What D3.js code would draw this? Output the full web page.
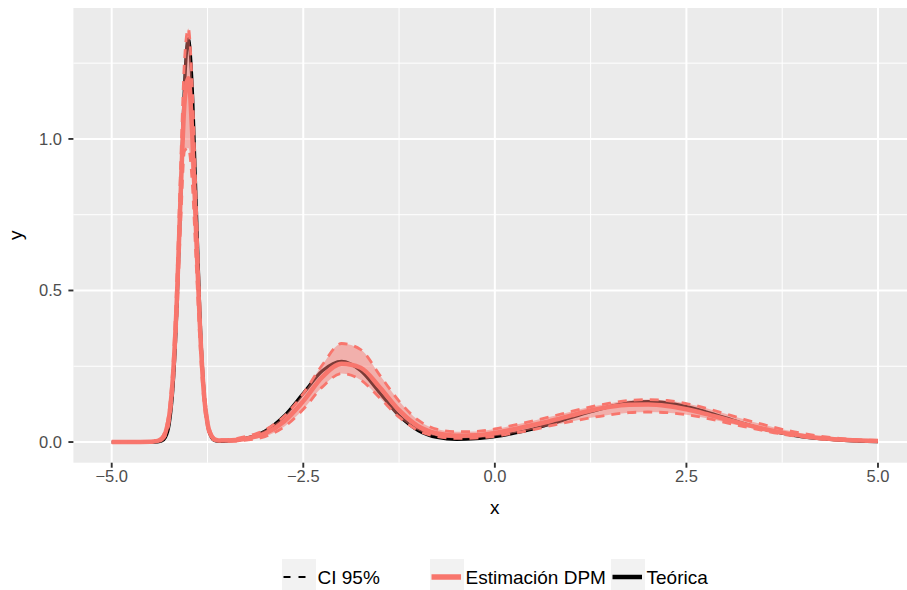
<!DOCTYPE html>
<html>
<head>
<meta charset="utf-8">
<script src="https://cdn.jsdelivr.net/npm/d3@7"></script>
<style>
  body { margin: 0; background: #fff; }
  svg { display: block; font-family: "Liberation Sans", Arial, sans-serif; }
</style>
</head>
<body>
<svg id="svg" width="907" height="590"></svg>
<script>
// x grid (finer around the spike at -4)
const xs = [-5, -4.75, -4.5, -4.45, -4.4, -4.35, -4.3, -4.25, -4.2, -4.15, -4.1, -4.05, -4.0,
  -3.95, -3.9, -3.85, -3.8, -3.75, -3.7, -3.65, -3.6, -3.55,
  -3.5, -3.25, -3.0, -2.75, -2.5, -2.25, -2.0, -1.75, -1.5, -1.25, -1.0, -0.75, -0.5, -0.25,
  0, 0.25, 0.5, 0.75, 1.0, 1.25, 1.5, 1.75, 2.0, 2.25, 2.5, 2.75, 3.0, 3.25, 3.5, 3.75,
  4.0, 4.25, 4.5, 4.75, 5.0];

// theoretical density (black)
const teorica = [0, 0, 0, 0, 0.0005, 0.003, 0.015, 0.058, 0.180, 0.432, 0.807, 1.174, 1.330,
  1.174, 0.807, 0.432, 0.180, 0.059, 0.016, 0.004, 0.002, 0.002,
  0.003, 0.012, 0.036, 0.086, 0.161, 0.235, 0.266, 0.235, 0.162, 0.087, 0.038, 0.015, 0.009, 0.011,
  0.018, 0.029, 0.043, 0.061, 0.081, 0.100, 0.117, 0.129, 0.133, 0.129, 0.117, 0.100, 0.081, 0.061, 0.043, 0.029,
  0.018, 0.011, 0.006, 0.003, 0.0015];

// DPM estimate (salmon)
const estimacion = [0, 0, 0.001, 0.002, 0.004, 0.010, 0.030, 0.085, 0.220, 0.470, 0.820, 1.120, 1.200,
  1.020, 0.700, 0.390, 0.170, 0.062, 0.020, 0.008, 0.005, 0.005,
  0.005, 0.011, 0.028, 0.068, 0.135, 0.215, 0.258, 0.245, 0.180, 0.105, 0.052, 0.028, 0.021, 0.022,
  0.030, 0.042, 0.056, 0.071, 0.088, 0.104, 0.116, 0.123, 0.124, 0.119, 0.108, 0.093, 0.076, 0.059, 0.044, 0.031,
  0.021, 0.013, 0.008, 0.005, 0.003];

// 95% band
const ciUpper = [0, 0, 0.002, 0.003, 0.006, 0.014, 0.040, 0.105, 0.260, 0.540, 0.920, 1.260, 1.364,
  1.180, 0.820, 0.450, 0.200, 0.075, 0.027, 0.012, 0.008, 0.008,
  0.008, 0.018, 0.040, 0.085, 0.160, 0.255, 0.325, 0.305, 0.220, 0.135, 0.072, 0.042, 0.034, 0.035,
  0.043, 0.056, 0.070, 0.085, 0.101, 0.116, 0.128, 0.137, 0.140, 0.137, 0.127, 0.112, 0.094, 0.075, 0.058, 0.042,
  0.029, 0.019, 0.012, 0.008, 0.005];

const ciLower = [0, 0, 0, 0.001, 0.002, 0.006, 0.020, 0.065, 0.180, 0.400, 0.720, 0.960, 0.970,
  0.860, 0.600, 0.330, 0.140, 0.048, 0.013, 0.005, 0.003, 0.003,
  0.002, 0.006, 0.018, 0.050, 0.108, 0.182, 0.226, 0.205, 0.145, 0.082, 0.038, 0.018, 0.012, 0.013,
  0.019, 0.029, 0.041, 0.055, 0.068, 0.080, 0.090, 0.097, 0.099, 0.097, 0.090, 0.079, 0.065, 0.051, 0.038, 0.026,
  0.017, 0.010, 0.006, 0.003, 0.001];

const xTicks = [-5, -2.5, 0, 2.5, 5];
const xMinor = [-3.75, -1.25, 1.25, 3.75];
const yTicks = [0, 0.5, 1.0];
const yMinor = [0.25, 0.75, 1.25];

const salmon = "#F8766D";
const fmt = d => (d < 0 ? "\u2212" : "") + Math.abs(d).toFixed(1);

const svg = d3.select("#svg");

// panel (right side runs past the picture edge, as in the original crop)
const pLeft = 73.4, pRight = 916.3, pTop = 8, pBottom = 462.7;
const x = d3.scaleLinear().domain([-5.5, 5.5]).range([pLeft, pRight]);
const y = d3.scaleLinear().domain([-0.0682, 1.432]).range([pBottom, pTop]);

svg.append("rect").attr("x", pLeft).attr("y", pTop)
  .attr("width", pRight - pLeft).attr("height", pBottom - pTop).attr("fill", "#EBEBEB");

svg.append("clipPath").attr("id", "clip").append("rect")
  .attr("x", pLeft).attr("y", pTop).attr("width", pRight - pLeft).attr("height", pBottom - pTop);

// grid lines
const grid = svg.append("g");
grid.selectAll(".xmin").data(xMinor).join("line")
  .attr("x1", d => x(d)).attr("x2", d => x(d)).attr("y1", pTop).attr("y2", pBottom)
  .attr("stroke", "#fff").attr("stroke-width", 1);
grid.selectAll(".ymin").data(yMinor).join("line")
  .attr("y1", d => y(d)).attr("y2", d => y(d)).attr("x1", pLeft).attr("x2", pRight)
  .attr("stroke", "#fff").attr("stroke-width", 1);
grid.selectAll(".xmaj").data(xTicks).join("line")
  .attr("x1", d => x(d)).attr("x2", d => x(d)).attr("y1", pTop).attr("y2", pBottom)
  .attr("stroke", "#fff").attr("stroke-width", 2);
grid.selectAll(".ymaj").data(yTicks).join("line")
  .attr("y1", d => y(d)).attr("y2", d => y(d)).attr("x1", pLeft).attr("x2", pRight)
  .attr("stroke", "#fff").attr("stroke-width", 2);

const idx = d3.range(xs.length);
const lineOf = arr => d3.line().x(i => x(xs[i])).y(i => y(arr[i])).curve(d3.curveMonotoneX);

const plot = svg.append("g").attr("clip-path", "url(#clip)");

// theoretical curve, under the ribbon
plot.append("path").attr("d", lineOf(teorica)(idx))
  .attr("fill", "none").attr("stroke", "#000").attr("stroke-width", 3.2);

// ribbon
const band = d3.area().x(i => x(xs[i])).y0(i => y(ciLower[i])).y1(i => y(ciUpper[i]))
  .curve(d3.curveMonotoneX);
plot.append("path").attr("d", band(idx)).attr("fill", salmon).attr("fill-opacity", 0.5);

// estimate
plot.append("path").attr("d", lineOf(estimacion)(idx))
  .attr("fill", "none").attr("stroke", salmon).attr("stroke-width", 4.5);

// CI bounds
[ciUpper, ciLower].forEach(arr => {
  plot.append("path").attr("d", lineOf(arr)(idx))
    .attr("fill", "none").attr("stroke", salmon).attr("stroke-width", 2.8)
    .attr("stroke-dasharray", "9,7");
});

// axes
const ax = svg.append("g");
ax.selectAll(".xt").data(xTicks).join("line")
  .attr("x1", d => x(d)).attr("x2", d => x(d)).attr("y1", pBottom).attr("y2", pBottom + 5)
  .attr("stroke", "#333").attr("stroke-width", 1.9);
ax.selectAll(".xl").data(xTicks).join("text")
  .attr("x", d => x(d)).attr("y", 481.5).attr("text-anchor", "middle")
  .attr("font-size", 16.5).attr("fill", "#4D4D4D").text(fmt);
ax.selectAll(".yt").data(yTicks).join("line")
  .attr("y1", d => y(d)).attr("y2", d => y(d)).attr("x1", pLeft - 5).attr("x2", pLeft)
  .attr("stroke", "#333").attr("stroke-width", 1.9);
ax.selectAll(".yl").data(yTicks).join("text")
  .attr("x", 62).attr("y", d => y(d) + 5.9).attr("text-anchor", "end")
  .attr("font-size", 16.5).attr("fill", "#4D4D4D").text(fmt);

svg.append("text").attr("x", (pLeft + pRight) / 2).attr("y", 514).attr("text-anchor", "middle")
  .attr("font-size", 19).text("x");
svg.append("text").attr("transform", "translate(22," + ((pTop + pBottom) / 2) + ") rotate(-90)")
  .attr("text-anchor", "middle").attr("font-size", 19).text("y");

// legend
const legendItems = [
  {label: "CI 95%", key: 282, color: "#000", width: 2.2, dash: "7,8"},
  {label: "Estimaci\u00f3n DPM", key: 430, color: salmon, width: 5.5, dash: null},
  {label: "Te\u00f3rica", key: 611, color: "#000", width: 4.5, dash: null}
];
const lg = svg.append("g");
const ly = 577;
legendItems.forEach(d => {
  lg.append("rect").attr("x", d.key).attr("y", 559).attr("width", 34).attr("height", 34)
    .attr("fill", "#F2F2F2");
  const l = lg.append("line").attr("x1", d.key + 1.5).attr("x2", d.key + 31)
    .attr("y1", ly).attr("y2", ly).attr("stroke", d.color).attr("stroke-width", d.width);
  if (d.dash) l.attr("stroke-dasharray", d.dash);
  lg.append("text").attr("x", d.key + 35.5).attr("y", ly + 6.8)
    .attr("font-size", 19).attr("fill", "#000").text(d.label);
});
</script>
</body>
</html>
